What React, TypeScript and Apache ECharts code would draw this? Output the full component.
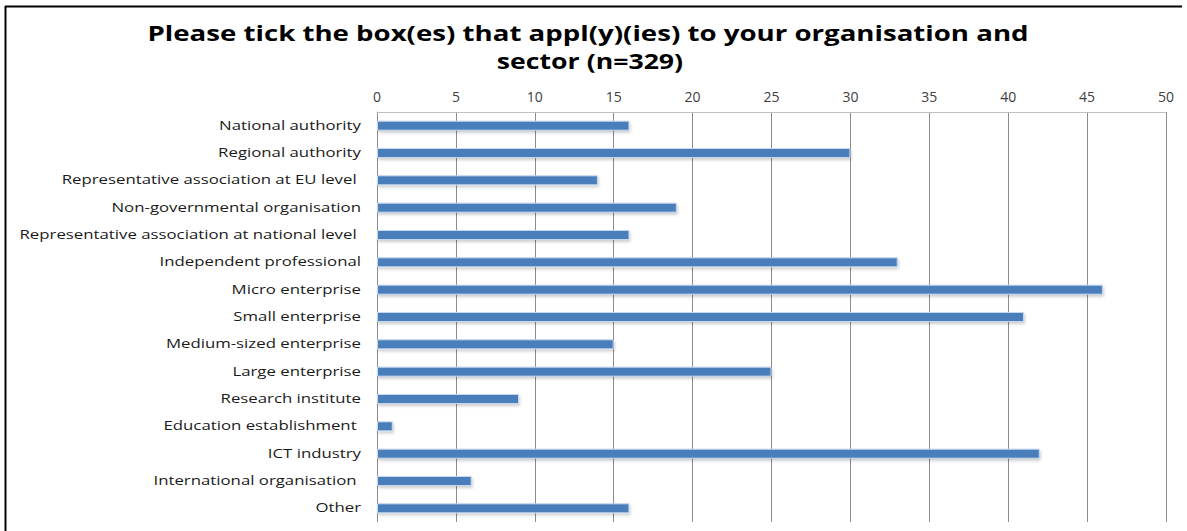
import React, { useEffect, useRef } from "react";
import * as echarts from "echarts";

const categories = [
  "National authority",
  "Regional authority",
  "Representative association at EU level ",
  "Non-governmental organisation",
  "Representative association at national level ",
  "Independent professional",
  "Micro enterprise",
  "Small enterprise",
  "Medium-sized enterprise",
  "Large enterprise",
  "Research institute",
  "Education establishment ",
  "ICT industry",
  "International organisation ",
  "Other",
];
const values = [16, 30, 14, 19, 16, 33, 46, 41, 15, 25, 9, 1, 42, 6, 16];
const titleLines = [
  "Please tick the box(es) that appl(y)(ies) to your organisation and",
  "sector (n=329)",
];

export default function App() {
  const ref = useRef<HTMLDivElement>(null);
  useEffect(() => {
    const chart = echarts.init(ref.current!, null, { renderer: "svg" });
    const frame = [
      {
        type: "line",
        shape: { x1: 5, y1: 6.5, x2: 1182, y2: 6.5 },
        style: { stroke: "#000000", lineWidth: 2 },
      },
      {
        type: "line",
        shape: { x1: 5.5, y1: 6, x2: 5.5, y2: 531 },
        style: { stroke: "#000000", lineWidth: 2 },
      },
    ];
    const titleEls = titleLines.map((t, i) => ({
      type: "text",
      x: i === 0 ? 588 : 590,
      y: 33 + i * 28,
      scaleX: i === 0 ? 1.285 : 1.24,
      style: {
        text: t,
        align: "center",
        verticalAlign: "middle",
        fontFamily: "Open Sans",
        fontWeight: "bold",
        fontSize: 21.5,
        fill: "#000000",
      },
    }));
    chart.setOption({
      animation: false,
      backgroundColor: "#ffffff",
      graphic: [...frame, ...titleEls],
      grid: { left: 377, right: 21, top: 112, bottom: 9, containLabel: false },
      xAxis: {
        type: "value",
        position: "top",
        min: 0,
        max: 50,
        interval: 5,
        axisLine: { show: true, lineStyle: { color: "#bfbfbf", width: 1 } },
        axisTick: { show: false },
        axisLabel: {
          fontFamily: "Open Sans",
          fontSize: 14,
          color: "#404040",
          margin: 9,
        },
        splitLine: { show: true, lineStyle: { color: "#8c8c8c", width: 1 } },
      },
      yAxis: {
        type: "category",
        data: categories,
        inverse: true,
        axisLine: { show: true, lineStyle: { color: "#8c8c8c", width: 1 } },
        axisTick: { show: false },
        axisLabel: { show: false },
      },
      series: [
        {
          type: "bar",
          data: values,
          barWidth: 10,
          itemStyle: {
            color: "#4a7ebb",
            borderColor: "#c5d7ee",
            borderWidth: 1,
            shadowColor: "rgba(0,0,0,0.2)",
            shadowBlur: 3,
            shadowOffsetX: 1,
            shadowOffsetY: 2,
          },
        },
      ],
    });
    const labelEls = categories.map((c) => {
      const y = chart.convertToPixel({ yAxisIndex: 0 }, c) as number;
      return {
        type: "text",
        x: 361,
        y: y - 1,
        scaleX: 1.4,
        style: {
          text: c,
          align: "right",
          verticalAlign: "middle",
          fontFamily: "Open Sans",
          fontSize: 12,
          fill: "#1a1a1a",
        },
      };
    });
    chart.setOption({ graphic: [...frame, ...titleEls, ...labelEls] });
    return () => chart.dispose();
  }, []);
  return (
    <div
      ref={ref}
      style={{ position: "absolute", left: 0, top: 0, width: 1187, height: 531 }}
    />
  );
}
